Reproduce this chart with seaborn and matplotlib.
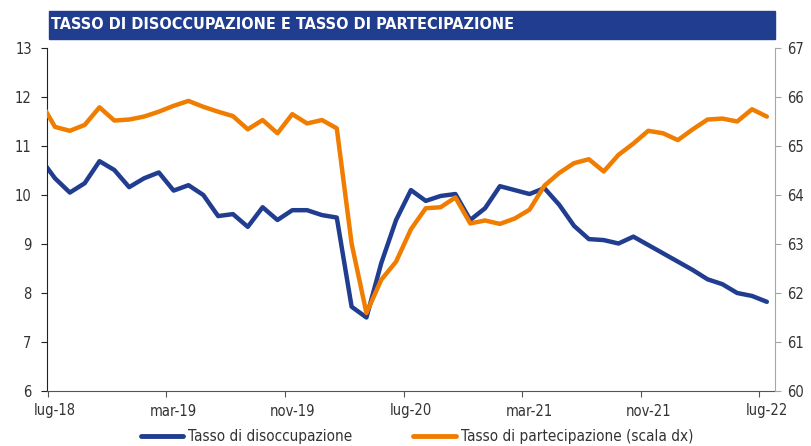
import numpy as np
import pandas as pd
import matplotlib
matplotlib.use("Agg")
import matplotlib.pyplot as plt
import seaborn as sns
from matplotlib.lines import Line2D
from matplotlib.patches import Rectangle

# Dati mensili giu-18 ... lug-22 (il primo mese resta fuori dall'asse)
mesi = pd.period_range("2018-06", "2022-07", freq="M")

disoccupazione = [10.75, 10.34, 10.05, 10.24, 10.69, 10.51, 10.16, 10.34, 10.46, 10.09,
                  10.20, 10.00, 9.57, 9.61, 9.35, 9.75, 9.49, 9.69, 9.69, 9.59,
                  9.54, 7.72, 7.50, 8.61, 9.49, 10.10, 9.88, 9.98, 10.02, 9.49,
                  9.73, 10.18, 10.10, 10.02, 10.14, 9.80, 9.37, 9.10, 9.08, 9.01,
                  9.15, 8.98, 8.81, 8.64, 8.47, 8.28, 8.18, 8.00, 7.94, 7.82]

partecipazione = [65.91, 65.39, 65.31, 65.43, 65.79, 65.52, 65.54, 65.60, 65.70, 65.82,
                  65.92, 65.80, 65.70, 65.61, 65.34, 65.53, 65.26, 65.65, 65.46, 65.53,
                  65.36, 63.01, 61.59, 62.27, 62.64, 63.30, 63.73, 63.75, 63.95, 63.42,
                  63.48, 63.41, 63.52, 63.70, 64.19, 64.45, 64.65, 64.73, 64.48, 64.82,
                  65.05, 65.31, 65.26, 65.12, 65.34, 65.54, 65.56, 65.50, 65.75, 65.60]

etichette = ["lug-18", "mar-19", "nov-19", "lug-20", "mar-21", "nov-21", "lug-22"]
nomi_mesi = ["gen", "feb", "mar", "apr", "mag", "giu", "lug", "ago", "set", "ott", "nov", "dic"]

BLU = "#213d8f"
ARANCIO = "#f07d00"
TESTO = "#333333"

df = pd.DataFrame({
    "x": np.arange(len(mesi)) - 1,
    "mese": [f"{nomi_mesi[p.month - 1]}-{p.year % 100:02d}" for p in mesi],
    "disoccupazione": disoccupazione,
    "partecipazione": partecipazione,
})

sns.set_style("white")
plt.rcParams["font.family"] = ["DejaVu Sans"]
plt.rcParams["font.stretch"] = "condensed"

fig = plt.figure(figsize=(8.12, 4.46), dpi=100)

# barra del titolo
fig.patches.append(Rectangle((49 / 812, 1 - 38.5 / 446), 726 / 812, 28 / 446,
                             transform=fig.transFigure, color=BLU, zorder=0))
fig.text(51 / 812, 1 - 24.5 / 446, "TASSO DI DISOCCUPAZIONE E TASSO DI PARTECIPAZIONE",
         color="white", fontsize=11.6, fontweight="bold", va="center", ha="left")

ax = fig.add_axes([47 / 812, 1 - 391 / 446, 728 / 812, 343 / 446])
sns.lineplot(data=df, x="x", y="disoccupazione", color=BLU, lw=3.2, ax=ax, legend=False)

ax2 = ax.twinx()
sns.lineplot(data=df, x="x", y="partecipazione", color=ARANCIO, lw=3.2, ax=ax2, legend=False)

ax.set_xlim(-0.54, 48.55)
ax.set_ylim(6, 13)
ax2.set_ylim(60, 67)
ax.set_yticks(range(6, 14))
ax2.set_yticks(range(60, 68))

# tacche tra un mese e l'altro, etichette sul mese
mesi_etichetta = [df.loc[df["mese"] == e, "x"].iloc[0] for e in etichette]
ax.set_xticks([m - 0.5 for m in mesi_etichetta])
ax.set_xticklabels([])
ax.set_xticks(mesi_etichetta, minor=True)
ax.set_xticklabels(etichette, minor=True)

for a in (ax, ax2):
    a.set_xlabel("")
    a.set_ylabel("")
    a.grid(False)
    a.spines["top"].set_visible(False)

ax.spines["right"].set_visible(False)
ax.spines["left"].set_color("#222222")
ax.spines["bottom"].set_color("#555555")
ax2.spines["left"].set_visible(False)
ax2.spines["bottom"].set_visible(False)
ax2.spines["right"].set_color("#a6a6a6")

ax.tick_params(axis="x", which="major", bottom=True, direction="out", length=4,
               color="#555555")
ax.tick_params(axis="x", which="minor", bottom=True, length=0,
               labelsize=10.5, labelcolor=TESTO, pad=9)
ax.tick_params(axis="y", left=True, direction="out", length=4, color="#222222",
               labelsize=10.5, labelcolor=TESTO, pad=7)
ax2.tick_params(axis="y", right=True, direction="out", length=4, color="#a6a6a6",
                labelsize=10.5, labelcolor=TESTO, pad=5)

maniglie = [Line2D([0], [0], color=BLU, lw=3.5), Line2D([0], [0], color=ARANCIO, lw=3.5)]
fig.legend(maniglie, ["Tasso di disoccupazione", "Tasso di partecipazione (scala dx)"],
           loc="center", bbox_to_anchor=(417 / 812, 1 - 437 / 446), ncol=2, frameon=False,
           handlelength=2.8, handletextpad=0.3, columnspacing=4.0, fontsize=11,
           labelcolor=TESTO)

fig.savefig("out.png", dpi=100)
